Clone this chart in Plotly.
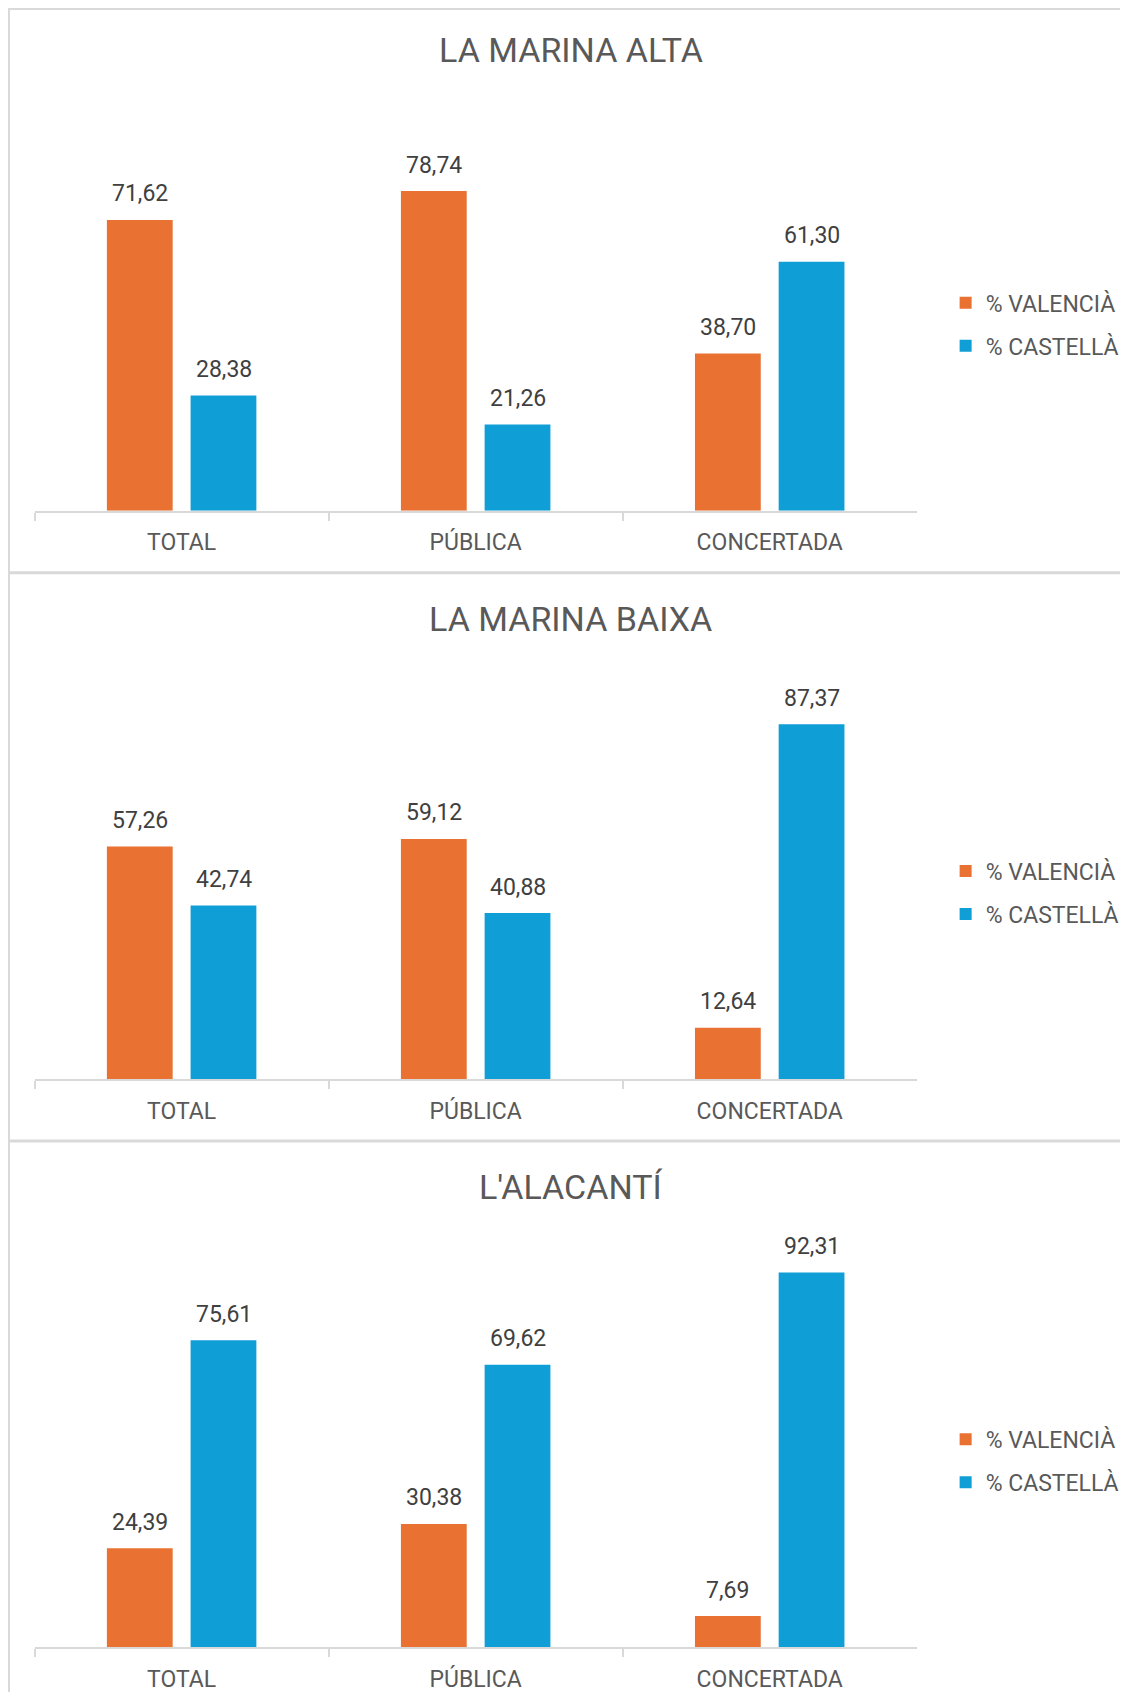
import plotly.graph_objects as go

# ---------------- data ----------------
categories = ["TOTAL", "PÚBLICA", "CONCERTADA"]
regions = ["LA MARINA ALTA", "LA MARINA BAIXA", "L'ALACANTÍ"]
series_names = ["% VALENCIÀ", "% CASTELLÀ"]

valencia_alta = [71.62, 78.74, 38.70]
castella_alta = [28.38, 21.26, 61.30]
valencia_baixa = [57.26, 59.12, 12.64]
castella_baixa = [42.74, 40.88, 87.37]
valencia_alacanti = [24.39, 30.38, 7.69]
castella_alacanti = [75.61, 69.62, 92.31]

panel_values = [
    (valencia_alta, castella_alta),
    (valencia_baixa, castella_baixa),
    (valencia_alacanti, castella_alacanti),
]

# ---------------- style ----------------
OFF = 8                      # default page body margin
W, H = 1132 - 2 * OFF, 1702 - 2 * OFF
FONT = "Roboto"
C_VAL = "#E97132"
C_CAS = "#0F9ED5"
GRID = "#D9D9D9"
TXT = "#595959"
LBL = "#404040"
PANEL_H = 568.3
BASE0 = 510.7 - OFF          # pixel y of first baseline (figure coords)
PX_PER_UNIT = 4.06
X0, X1 = 34.7 - OFF, 920.0 - OFF


def py(y):
    return 1 - y / H


fig = go.Figure()
annotations = []
shapes = []
layout = {}

for i, (vals_v, vals_c) in enumerate(panel_values):
    k = "" if i == 0 else str(i + 1)
    base = BASE0 + i * PANEL_H
    top = base - 100 * PX_PER_UNIT
    for name, vals, col, sgn in ((series_names[0], vals_v, C_VAL, -1),
                                 (series_names[1], vals_c, C_CAS, 1)):
        fig.add_trace(go.Bar(
            x=categories, y=vals, name=name, marker_color=col,
            marker_line_width=0,
            xaxis="x" + k, yaxis="y" + k,
            legend="legend" + k, legendgroup=f"{name}{i}",
            hoverinfo="skip",
        ))
        for c, v in zip(categories, vals):
            annotations.append(dict(
                x=c, y=v, xref="x" + k, yref="y" + k,
                text=f"{v:.2f}".replace(".", ","), showarrow=False,
                xshift=sgn * 42, yshift=26, yanchor="middle",
                font=dict(family=FONT, size=23, color=LBL),
            ))
    layout["xaxis" + k] = dict(
        domain=[X0 / W, X1 / W], range=[-0.5, 2.5], type="category",
        anchor="y" + k, tickson="boundaries", ticks="outside", ticklen=8,
        tickwidth=1.5, tickcolor=GRID, showline=True, linecolor=GRID,
        linewidth=2, showgrid=False, zeroline=False,
        ticklabelstandoff=10,
        tickfont=dict(family=FONT, size=23, color=TXT),
        fixedrange=True,
    )
    layout["yaxis" + k] = dict(
        domain=[py(base), py(top)], range=[0, 100], visible=False,
        anchor="x" + k, fixedrange=True,
    )
    layout["legend" + k] = dict(
        x=941 / W, xanchor="left", y=py(324.3 - OFF + i * PANEL_H),
        yanchor="middle",
        font=dict(family=FONT, size=23, color=TXT), bgcolor="rgba(0,0,0,0)",
        tracegroupgap=10, traceorder="grouped",
    )
    annotations.append(dict(
        x=(572.8 - OFF) / W, y=py(50.3 - OFF + i * PANEL_H),
        xref="paper", yref="paper",
        text=regions[i], showarrow=False, xanchor="center", yanchor="middle",
        font=dict(family=FONT, size=34, color=TXT),
    ))

# panel borders
border_y = [1.0, 572.7 - OFF, 572.7 - OFF + PANEL_H]
for j, yb in enumerate(border_y):
    shapes.append(dict(type="line", xref="paper", yref="paper",
                       x0=0, x1=1.0, y0=py(yb), y1=py(yb),
                       line=dict(color=GRID, width=2 if j == 0 else 3)))
shapes.append(dict(type="line", xref="paper", yref="paper",
                   x0=1 / W, x1=1 / W, y0=py(0), y1=py(H - 2),
                   line=dict(color=GRID, width=2)))

fig.update_layout(
    width=W, height=H,
    margin=dict(l=0, r=0, t=0, b=0),
    paper_bgcolor="white", plot_bgcolor="white",
    barmode="group", bargap=0.4307, bargroupgap=0.214,
    annotations=annotations, shapes=shapes,
    font=dict(family=FONT, color=TXT),
    **layout,
)

fig.write_html("out.html")
